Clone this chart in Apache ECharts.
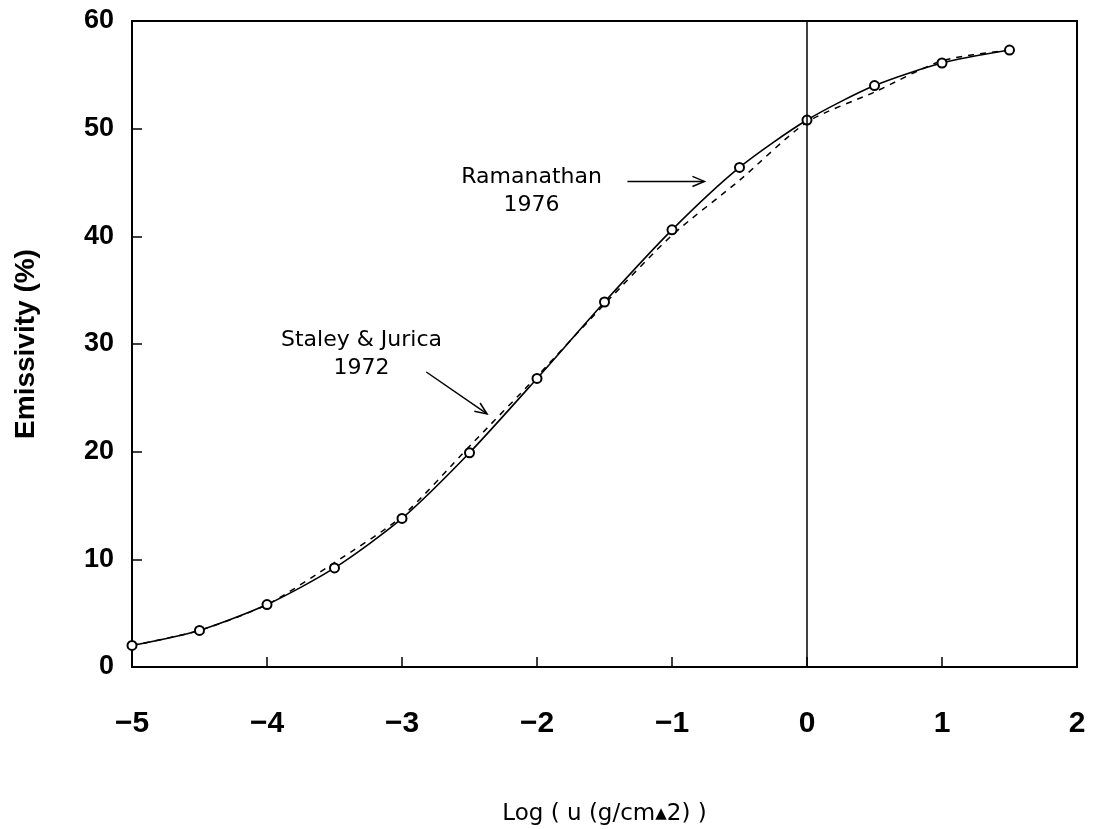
<!DOCTYPE html>
<html>
<head>
<meta charset="utf-8">
<script src="https://cdn.jsdelivr.net/npm/echarts@6/dist/echarts.min.js"></script>
<style>
html,body{margin:0;padding:0;background:#fff;}
#c{width:1093px;height:829px;}
</style>
</head>
<body>
<div id="c"></div>
<script>
// ---- data ----
const logU = [-5, -4.5, -4, -3.5, -3, -2.5, -2, -1.5, -1, -0.5, 0, 0.5, 1, 1.5];
const ramanathan1976 = [2.0, 3.4, 5.8, 9.2, 13.8, 19.9, 26.8, 33.9, 40.6, 46.4, 50.8, 54.0, 56.1, 57.3];
const staleyJurica1972 = [2.0, 3.4, 5.8, 9.7, 14.0, 20.5, 27.0, 33.7, 40.1, 45.2, 50.6, 53.4, 56.3, 57.3];
const xTicks = [-5, -4, -3, -2, -1, 0, 1, 2];
const yTicks = [0, 10, 20, 30, 40, 50, 60];
const xTitle = 'Log ( u (g/cm\u25B42) )';
const yTitle = 'Emissivity (%)';
const notes = [
  {text: 'Ramanathan\n1976', at: [-2.04, 44.15], arrow: [[-1.33, 45.1], [-0.76, 45.1]]},
  {text: 'Staley & Jurica\n1972', at: [-3.30, 29.06], arrow: [[-2.82, 27.4], [-2.37, 23.5]]}
];

const pair = (xs, ys) => xs.map((x, i) => [x, ys[i]]);

const chart = echarts.init(document.getElementById('c'));
const option = {
  backgroundColor: '#fff',
  animation: false,
  grid: {left: 132, right: 16, top: 21, bottom: 162, show: true, borderColor: '#000', borderWidth: 2,
    containLabel: false, outerBoundsMode: 'none'},
  xAxis: {
    type: 'value', min: xTicks[0], max: xTicks[xTicks.length - 1], interval: 1,
    name: xTitle, nameLocation: 'middle', nameGap: 136,
    nameTextStyle: {fontFamily: 'DejaVu Sans', fontSize: 23, color: '#000'},
    axisLine: {onZero: false, lineStyle: {color: '#000', width: 2}},
    axisTick: {inside: true, length: 10, lineStyle: {color: '#000', width: 1.5}},
    axisLabel: {margin: 42, fontFamily: 'Liberation Sans', fontWeight: 'bold', fontSize: 30, color: '#000',
      formatter: v => (v < 0 ? '\u2212' + Math.abs(v) : String(v))},
    splitLine: {show: false}
  },
  yAxis: {
    type: 'value', min: yTicks[0], max: yTicks[yTicks.length - 1], interval: 10,
    name: yTitle, nameLocation: 'middle', nameGap: 92,
    nameTextStyle: {fontFamily: 'Liberation Sans', fontWeight: 'bold', fontSize: 28, color: '#000'},
    axisLine: {onZero: false, lineStyle: {color: '#000', width: 2}},
    axisTick: {inside: true, length: 10, lineStyle: {color: '#000', width: 1.5}},
    axisLabel: {margin: 18, fontFamily: 'Liberation Sans', fontWeight: 'bold', fontSize: 27, color: '#000'},
    splitLine: {show: false}
  },
  series: [
    {
      name: 'Ramanathan 1976', type: 'line', data: pair(logU, ramanathan1976),
      smooth: 0.25, symbol: 'emptyCircle', symbolSize: 9,
      lineStyle: {color: '#000', width: 1.6},
      itemStyle: {color: '#000', borderColor: '#000', borderWidth: 1.5},
      markLine: {
        silent: true, symbol: ['none', 'none'], label: {show: false},
        lineStyle: {color: '#000', width: 1.5, type: 'solid'},
        data: [{xAxis: 0}]
      },
      z: 3
    },
    {
      name: 'Staley & Jurica 1972', type: 'line', data: pair(logU, staleyJurica1972),
      smooth: 0.25, symbol: 'none',
      lineStyle: {color: '#000', width: 1.5, type: [6, 6]},
      z: 2
    }
  ]
};
chart.setOption(option);

// annotations placed from data coordinates
const toPx = p => chart.convertToPixel({gridIndex: 0}, p);
const graphics = [];
notes.forEach(n => {
  const c = toPx(n.at);
  graphics.push({
    type: 'text', x: c[0], y: c[1],
    style: {text: n.text, align: 'center', verticalAlign: 'middle', fill: '#000',
      font: '22px "DejaVu Sans"', lineHeight: 28}
  });
  const a = toPx(n.arrow[0]), b = toPx(n.arrow[1]);
  graphics.push({type: 'line', shape: {x1: a[0], y1: a[1], x2: b[0], y2: b[1]},
    style: {stroke: '#000', lineWidth: 1.5}});
  const ang = Math.atan2(b[1] - a[1], b[0] - a[0]);
  const L = 13, spread = 0.4;
  graphics.push({type: 'polyline', shape: {points: [
      [b[0] - L * Math.cos(ang - spread), b[1] - L * Math.sin(ang - spread)],
      [b[0], b[1]],
      [b[0] - L * Math.cos(ang + spread), b[1] - L * Math.sin(ang + spread)]
    ]}, style: {stroke: '#000', lineWidth: 1.5, fill: null}});
});
chart.setOption({graphic: graphics});
</script>
</body>
</html>
